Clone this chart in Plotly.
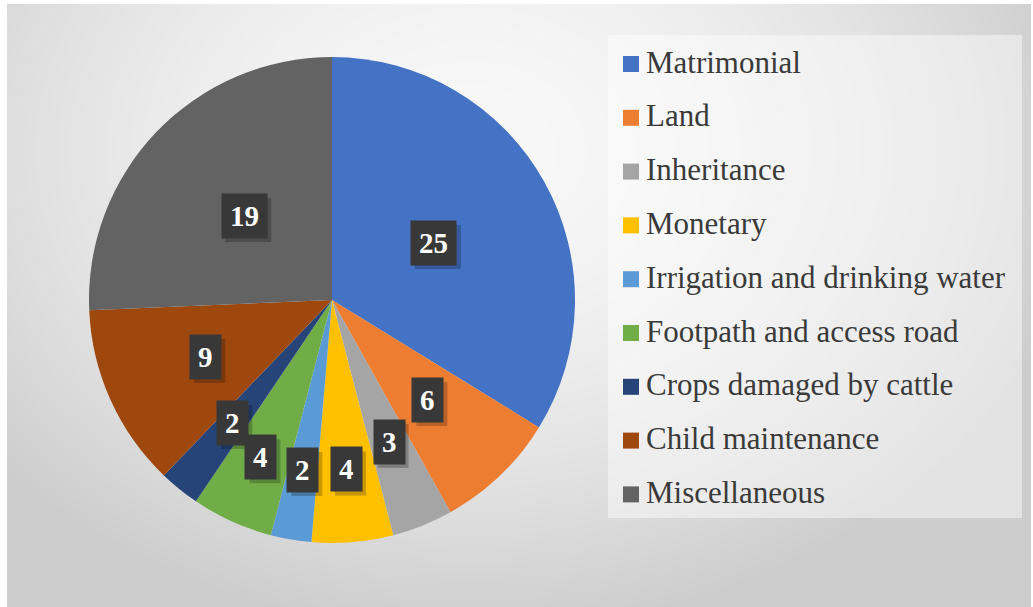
import numpy as np
import plotly.graph_objects as go

# ---- data ----
categories = [
    "Matrimonial",
    "Land",
    "Inheritance",
    "Monetary",
    "Irrigation and drinking water",
    "Footpath and access road",
    "Crops damaged by cattle",
    "Child maintenance",
    "Miscellaneous",
]
counts = [25, 6, 3, 4, 2, 4, 2, 9, 19]

# ---- styling ----
slice_colors = ["#4472C4", "#ED7D31", "#A5A5A5", "#FFC000", "#5B9BD5",
                "#70AD47", "#264478", "#9E480E", "#636363"]
# distance of each value box from the centre, as a fraction of the radius
label_radius = [0.48, 0.57, 0.63, 0.70, 0.71, 0.71, 0.65, 0.57, 0.50]

W, H = 1033, 607
CX, CY, R = 332, 300, 243          # pie centre and radius in pixels
SERIF = "Liberation Serif, Times New Roman, serif"

fig = go.Figure()

# soft radial background for the chart area
gx = np.linspace(0, W, 80)
gy = np.linspace(0, H, 50)
X, Y = np.meshgrid(gx, gy)
d = np.sqrt(((X - 470) / 620) ** 2 + ((Y - 150) / 480) ** 2)
shade = np.clip(d, 0, 1) ** 1.7
fig.add_trace(go.Heatmap(
    x=gx, y=gy, z=shade, zmin=0, zmax=1, zsmooth="best",
    colorscale=[[0, "#f8f8f8"], [1, "#cdcdcd"]],
    showscale=False, hoverinfo="skip",
))

# the pie itself
fig.add_trace(go.Pie(
    labels=categories, values=counts, sort=False, direction="clockwise",
    rotation=0, marker=dict(colors=slice_colors, line=dict(width=0)),
    textinfo="none", hoverinfo="label+value", showlegend=False,
    domain=dict(x=[(CX - R) / W, (CX + R) / W],
                y=[(H - CY - R) / H, (H - CY + R) / H]),
))

annotations = []
shapes = []

# value boxes placed on each slice's mid-angle
total = float(sum(counts))
cum = 0.0
for val, frac in zip(counts, label_radius):
    mid = 2 * np.pi * (cum + val / 2.0) / total
    cum += val
    px = CX + R * frac * np.sin(mid)
    py = CY - R * frac * np.cos(mid)
    half_w = (15 * len(str(val)) + 16) / 2
    # soft drop shadow behind the box
    shapes.append(dict(type="rect", xref="x", yref="y",
                       x0=px - half_w + 4, x1=px + half_w + 4,
                       y0=py - 22 + 4, y1=py + 22 + 4,
                       fillcolor="rgba(0,0,0,0.22)", line=dict(width=0),
                       layer="above"))
    annotations.append(dict(
        x=px / W, y=1 - py / H, xref="paper", yref="paper", text=f"<b>{val}</b>",
        showarrow=False, xanchor="center", yanchor="middle", height=28, borderpad=8,
        bgcolor="#383838", font=dict(family=SERIF, size=29, color="white")))

# legend panel
shapes.append(dict(type="rect", xref="x", yref="y", x0=608, x1=1022, y0=35, y1=518,
                   fillcolor="rgba(255,255,255,0.45)", line=dict(width=0), layer="above"))
row0, step = 62, 53.8
for i, (name, col) in enumerate(zip(categories, slice_colors)):
    yc = row0 + i * step
    shapes.append(dict(type="rect", xref="x", yref="y", x0=623, x1=639,
                       y0=yc - 6, y1=yc + 10, fillcolor=col, line=dict(width=0),
                       layer="above"))
    annotations.append(dict(
        x=644, y=yc, xref="x", yref="y", text=name, showarrow=False,
        xanchor="left", yanchor="middle",
        font=dict(family=SERIF, size=31, color="#3a3a3a")))

# white frame around the chart area
for x0, x1, y0, y1 in [(0, 7, 0, H), (0, W, 0, 4), (1031, W, 0, H)]:
    shapes.append(dict(type="rect", xref="x", yref="y", x0=x0, x1=x1, y0=y0, y1=y1,
                       fillcolor="white", line=dict(width=0), layer="above"))

fig.update_layout(
    width=W, height=H, margin=dict(l=0, r=0, t=0, b=0),
    paper_bgcolor="white", plot_bgcolor="white",
    xaxis=dict(range=[0, W], visible=False, fixedrange=True, domain=[0, 1]),
    yaxis=dict(range=[H, 0], visible=False, fixedrange=True, domain=[0, 1]),
    annotations=annotations, shapes=shapes, showlegend=False,
)

fig.write_html("out.html", config={"displayModeBar": False})
